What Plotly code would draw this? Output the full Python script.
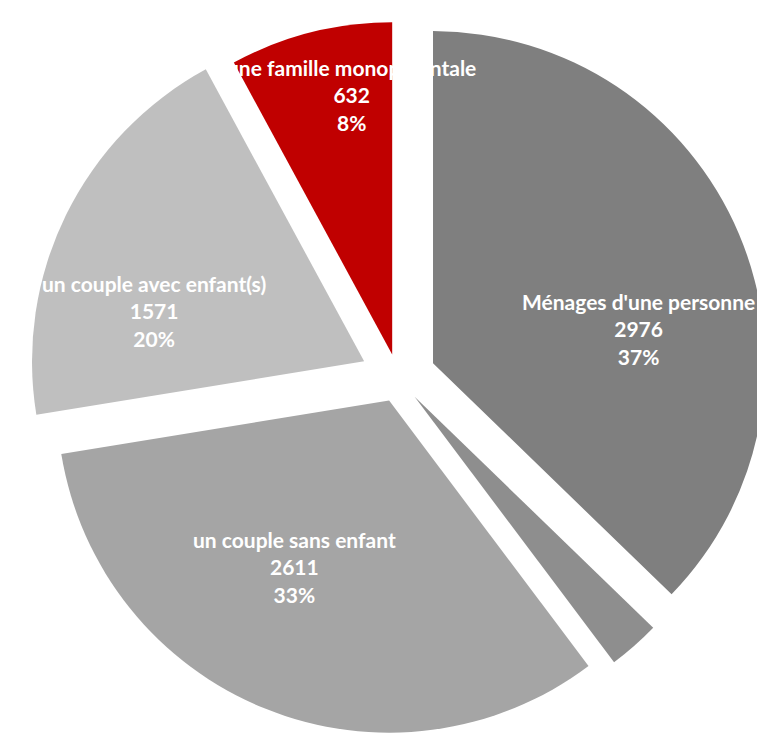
import math
import plotly.graph_objects as go

# ---- data ----
categories = ["Ménages d'une personne", "Autres ménages", "un couple sans enfant",
              "un couple avec enfant(s)", "une famille monoparentale"]
values = [2976, 200, 2611, 1571, 632]
show_label = [True, False, True, True, True]

# ---- styles ----
colors = ["#7f7f7f", "#8e8e8e", "#a5a5a5", "#bfbfbf", "#c00000"]
pulls = [0.114, 0.075, 0.073, 0.114, 0.073]
# label placement relative to each (pulled) slice centre: angle (deg, clockwise from 12h), fraction of radius
label_place = [(80.6, 0.626), (0, 0.0), (209.8, 0.576), (283.5, 0.65), (351, 0.79)]

W, H = 765, 740
dom_x = [0.02, 1.0]
dom_y = [0.0, 1.0]

fig = go.Figure(go.Pie(
    labels=categories, values=values, sort=False, direction="clockwise", rotation=0,
    marker=dict(colors=colors, line=dict(width=0)),
    pull=pulls, textinfo="none", hoverinfo="label+value+percent",
    domain=dict(x=dom_x, y=dom_y), showlegend=False,
))

# geometry replicating plotly's pie layout, to position the labels
box_w = W * (dom_x[1] - dom_x[0])
box_h = H * (dom_y[1] - dom_y[0])
r = min(box_w, box_h) / (2 + 2 * max(pulls))
cx = W * (dom_x[0] + dom_x[1]) / 2
cy = H * (1 - dom_y[0]) - box_h / 2
total = sum(values)
cum = 0.0
for i, v in enumerate(values):
    mid = (cum + v / 2) / total * 360.0
    cum += v
    if not show_label[i]:
        continue
    m = math.radians(mid)
    pcx = cx + pulls[i] * r * math.sin(m)
    pcy = cy - pulls[i] * r * math.cos(m)
    ang, frac = label_place[i]
    a = math.radians(ang)
    px = pcx + frac * r * math.sin(a)
    py = pcy - frac * r * math.cos(a)
    pct = round(v / total * 100)
    fig.add_annotation(
        x=px / W, y=1 - py / H, xref="paper", yref="paper",
        text=f"<b>{categories[i]}</b><br><b>{v}</b><br><b>{pct}%</b>", showarrow=False,
        xanchor="center", yanchor="middle", align="center",
        font=dict(family="Lato", size=21, color="white"),
    )

fig.update_layout(
    width=W, height=H, margin=dict(l=0, r=0, t=0, b=0),
    paper_bgcolor="white", plot_bgcolor="white",
)
fig.write_html("out.html", config={"displayModeBar": False})
